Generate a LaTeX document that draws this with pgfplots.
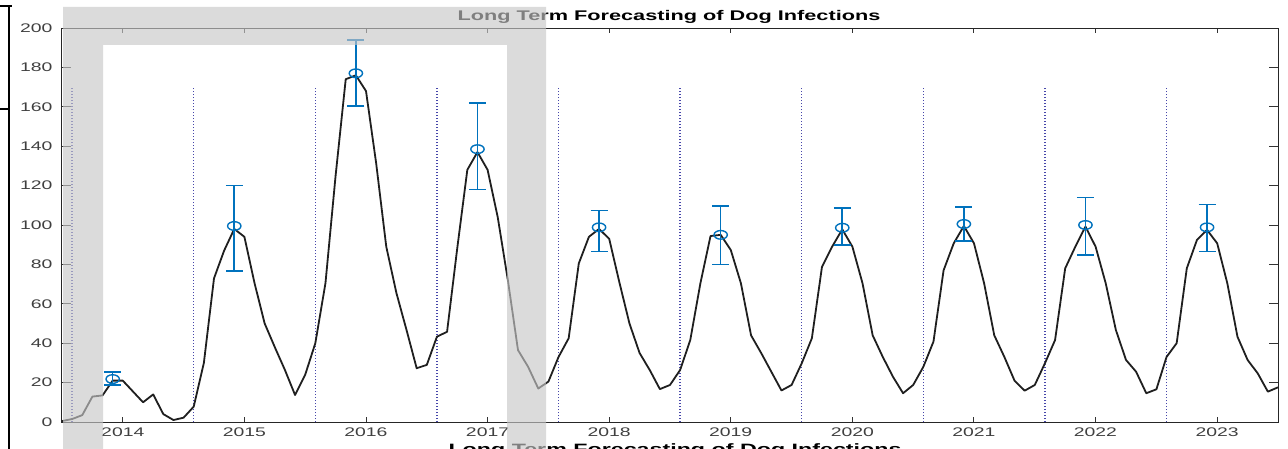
\documentclass[border=0pt]{standalone}
\usepackage{fontspec}
\usepackage{pgfplots}
\usepackage{pgfplotstable}
\pgfplotsset{compat=1.18}
\newfontfamily\wide[FakeStretch=1.55]{Liberation Sans}
\definecolor{ebblue}{RGB}{0,114,189}
\definecolor{vline}{RGB}{70,70,170}
\definecolor{framegray}{RGB}{200,200,200}

% monthly infections (decimal year, count)
\pgfplotstableread{
t y
2013.5000 0.5
2013.5833 1.5
2013.6667 3.5
2013.7500 12.9
2013.8333 13.5
2013.9167 21.0
2014.0000 21.0
2014.0833 15.5
2014.1667 10.0
2014.2500 14.0
2014.3333 4.0
2014.4167 1.0
2014.5000 2.2
2014.5833 7.8
2014.6667 30.0
2014.7500 72.9
2014.8333 87.0
2014.9167 98.0
2015.0000 94.0
2015.0833 70.5
2015.1667 50.0
2015.2500 38.0
2015.3333 26.4
2015.4167 13.7
2015.5000 24.0
2015.5833 40.0
2015.6667 70.5
2015.7500 125.0
2015.8333 174.0
2015.9167 176.0
2016.0000 168.0
2016.0833 131.5
2016.1667 89.0
2016.2500 65.5
2016.3333 46.7
2016.4167 27.3
2016.5000 29.0
2016.5833 43.3
2016.6667 45.8
2016.7500 88.0
2016.8333 128.0
2016.9167 137.0
2017.0000 128.0
2017.0833 104.0
2017.1667 72.0
2017.2500 36.5
2017.3333 28.0
2017.4167 17.0
2017.5000 20.5
2017.5833 33.0
2017.6667 42.5
2017.7500 80.5
2017.8333 94.0
2017.9167 98.0
2018.0000 93.0
2018.0833 71.0
2018.1667 50.0
2018.2500 35.0
2018.3333 26.4
2018.4167 16.7
2018.5000 18.8
2018.5833 26.4
2018.6667 41.6
2018.7500 70.4
2018.8333 94.4
2018.9167 95.0
2019.0000 87.3
2019.0833 70.4
2019.1667 44.0
2019.2500 35.0
2019.3333 25.5
2019.4167 16.0
2019.5000 18.8
2019.5833 29.8
2019.6667 42.5
2019.7500 78.8
2019.8333 89.0
2019.9167 97.8
2020.0000 89.0
2020.0833 70.4
2020.1667 44.0
2020.2500 33.0
2020.3333 23.0
2020.4167 14.6
2020.5000 18.8
2020.5833 28.0
2020.6667 40.8
2020.7500 77.0
2020.8333 90.7
2020.9167 99.5
2021.0000 90.7
2021.0833 70.4
2021.1667 44.0
2021.2500 33.0
2021.3333 21.0
2021.4167 15.9
2021.5000 18.8
2021.5833 29.8
2021.6667 41.6
2021.7500 78.0
2021.8333 89.0
2021.9167 99.2
2022.0000 89.0
2022.0833 70.4
2022.1667 46.7
2022.2500 31.5
2022.3333 25.5
2022.4167 14.6
2022.5000 16.6
2022.5833 33.0
2022.6667 40.0
2022.7500 78.0
2022.8333 92.4
2022.9167 97.5
2023.0000 90.7
2023.0833 70.4
2023.1667 43.3
2023.2500 31.5
2023.3333 24.7
2023.4167 15.4
2023.5000 17.6
}\series

% seasonal peaks with their uncertainty
\pgfplotstableread{
t y ep em
2013.9167 21.8 3.7 3.0
2014.9167 99.5 20.5 22.7
2015.9167 177.0 17.0 16.5
2016.9167 138.5 23.5 20.5
2017.9167 98.8 8.5 12.3
2018.9167 95.0 14.6 15.1
2019.9167 98.6 9.9 8.8
2020.9167 100.5 8.5 8.5
2021.9167 100.0 13.9 15.2
2022.9167 98.8 11.7 12.3
}\peaks

\begin{document}
\begin{tikzpicture}[x=1pt,y=1pt]
\path[use as bounding box, clip] (0,0) rectangle (1288,448);
\fill[white] (0,0) rectangle (1288,448);
\begin{axis}[
  at={(62pt,26pt)}, anchor=south west,
  scale only axis, width=1216pt, height=394pt,
  xmin=2013.5, xmax=2023.5, ymin=0, ymax=200,
  xtick={2014,...,2023}, ytick={0,20,...,200},
  tick align=inside,
  xtick style={/pgfplots/major tick length=5pt, black!80, line width=0.9pt},
  ytick style={/pgfplots/major tick length=9pt, black!80, line width=0.9pt},
  axis line style={black!85, line width=1pt},
  /pgf/number format/1000 sep={},
  /pgf/number format/assume math mode=true,
  ticklabel style={font=\wide\fontsize{12.5}{14}\selectfont, text=black!75},
  xticklabel style={yshift=-2pt},
  yticklabel style={xshift=-6pt},
  clip=true,
]
% season boundaries
\addplot[ycomb, vline, line width=1.5pt, dash pattern=on 1.2pt off 1.8pt, no marks]
  coordinates {(2013.5833,170) (2014.5833,170) (2015.5833,170) (2016.5833,170)
               (2017.5833,170) (2018.5833,170) (2019.5833,170) (2020.5833,170)
               (2021.5833,170) (2022.5833,170)};
% monthly series
\addplot[color=black!88, line width=1.8pt, line join=round, no marks] table[x=t, y=y] {\series};
% peak estimates
\addplot[only marks, ebblue, mark=o, mark size=4.3pt,
  mark options={xscale=1.55, line width=1.4pt},
  error bars/.cd, y dir=both, y explicit,
  error bar style={line width=1.6pt, ebblue},
  error mark options={rotate=90, mark size=8.5pt, line width=1.6pt, ebblue}]
  table[x=t, y=y, y error plus=ep, y error minus=em] {\peaks};
\end{axis}
% titles
\node[anchor=base, font=\wide\bfseries\fontsize{14}{16}\selectfont, text=black] at (669,427.3)
  {Long Term Forecasting of Dog Infections};
\node[anchor=base, font=\wide\bfseries\fontsize{15}{17}\selectfont, text=black] at (675,-6)
  {Long Term Forecasting of Dog Infections};
% translucent frame
\fill[framegray, fill opacity=0.64, even odd rule]
  (63,441) rectangle (546,-10) (103,403) rectangle (507,-10);
% left edge rules
\draw[black, line width=1.6pt] (9,442) -- (9,-5);
\draw[black, line width=1.6pt] (0,442) -- (12,442);
\draw[black, line width=1.6pt] (0,339) -- (9,339);
\end{tikzpicture}
\end{document}
